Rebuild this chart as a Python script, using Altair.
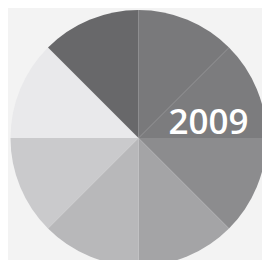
import altair as alt
import pandas as pd

segments = ["s1", "s2", "s3", "s4", "s5", "s6", "s7", "s8"]
values = [1, 1, 1, 1, 1, 1, 1, 1]
colors = ["#79797b", "#7c7c7e", "#8c8c8e", "#a4a4a6", "#b8b8ba", "#cacacc", "#e9e9eb", "#68686a"]
label = ["2009"]

df = pd.DataFrame({"seg": segments, "val": values, "order": list(range(len(segments)))})

pie = alt.Chart(df).mark_arc(radius=128, stroke=None).encode(
    theta=alt.Theta("val:Q", stack=True),
    order=alt.Order("order:Q"),
    color=alt.Color("seg:N", scale=alt.Scale(domain=segments, range=colors), legend=None),
    x=alt.value(130.5),
    y=alt.value(130),
)

text = alt.Chart(pd.DataFrame({"t": label})).mark_text(
    font="Open Sans", fontSize=35, fontWeight=600, color="white", baseline="alphabetic", align="center"
).encode(
    text="t:N",
    x=alt.value(200.5),
    y=alt.value(126),
)

chart = alt.layer(pie, text).properties(
    width=254, height=252, autosize=alt.AutoSizeParams(type="none"), padding=0,
    background="#f3f3f3",
).configure_view(stroke=None)

chart.save("out.html", embed_options={"renderer": "svg", "actions": False})
